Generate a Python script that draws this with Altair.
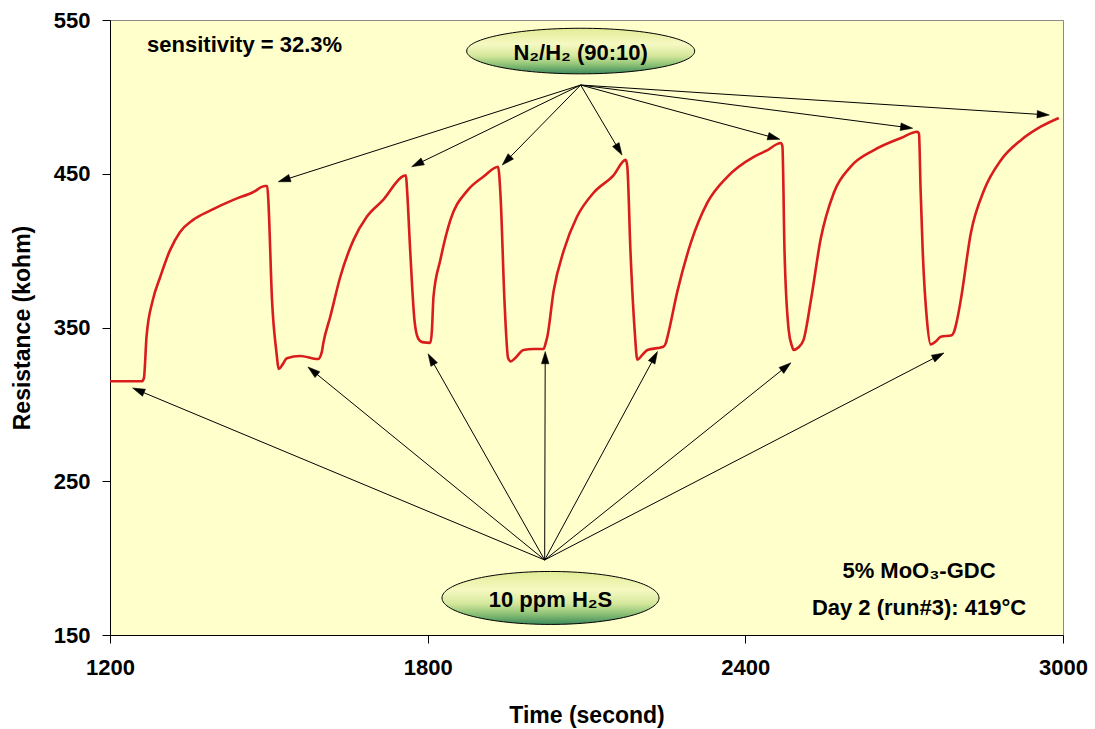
import math
import altair as alt
import pandas as pd

# ---------------- data ----------------
time_s = [1200, 1260, 1264, 1269, 1281, 1295, 1313, 1332, 1357, 1389, 1433, 1470, 1493, 1497,
          1499, 1506, 1514, 1519, 1526, 1534, 1559, 1593, 1600, 1603, 1616, 1635, 1660, 1685,
          1716, 1754, 1759, 1761, 1767, 1775, 1782, 1790, 1805, 1808, 1811, 1824, 1843, 1875,
          1905, 1933, 1935, 1938, 1945, 1952, 1957, 1965, 1981, 2000, 2019, 2023, 2026, 2038,
          2057, 2082, 2113, 2151, 2174, 2177, 2183, 2191, 2196, 2205, 2215, 2245, 2250, 2253,
          2272, 2297, 2328, 2366, 2416, 2440, 2467, 2470, 2474, 2482, 2488, 2491, 2500, 2510,
          2524, 2542, 2567, 2599, 2643, 2694, 2725, 2728, 2731, 2735, 2743, 2750, 2760, 2769,
          2790, 2794, 2800, 2807, 2826, 2851, 2883, 2921, 2958, 2992]
resistance_kohm = [315, 315, 317, 344, 368, 383, 400, 412, 420, 426, 433, 438, 442, 442,
                   433, 368, 335, 323, 326, 330, 331.5, 329.5, 334, 340, 357, 383, 407, 422,
                   433, 448.5, 449, 440, 400, 355, 343, 340.5, 340, 348, 370, 394, 420, 439,
                   448, 454.6, 450, 433, 368, 330, 328, 330, 335.4, 336, 336, 340, 344, 374,
                   400, 422, 437.5, 449, 459, 455, 400, 348, 329, 332, 335.4, 337.5, 340, 344,
                   374, 405, 431, 448, 461, 465, 470, 468, 400, 348, 338, 335.4, 337, 342,
                   368, 407, 437.5, 454.6, 465.4, 473.3, 477.3, 476, 440, 400, 355, 339, 341, 344,
                   345, 347, 355, 368, 411.5, 439.4, 459, 472, 480.6, 486.3]

x_ticks = [1200, 1800, 2400, 3000]
y_ticks = [150, 250, 350, 450, 550]

# annotation arrows: source point and arrow tips (data units)
n2_source = [2089, 507.7]
n2_tip_t = [1518, 1770, 1941, 2167, 2465, 2716, 2974]
n2_tip_r = [444.8, 454.6, 455.7, 462.2, 472.4, 479.6, 488.2]

h2s_source = [2021, 198.8]
h2s_tip_t = [1243, 1574, 1801, 2022, 2234, 2486, 2775]
h2s_tip_r = [310.6, 324.3, 332.8, 334.3, 334.3, 327, 333.4]

# text annotations
ellipse_t = [2089, 2032]
ellipse_r = [529.8, 174.1]
ellipse_text = ["N\u2082/H\u2082 (90:10)", "10 ppm H\u2082S"]

note_t = [2728, 2728]
note_r = [187, 163]
note_text = ["5% MoO\u2083-GDC", "Day 2 (run#3): 419\u00b0C"]

sens_t = [1270]
sens_r = [529.2]
sens_text = ["sensitivity = 32.3%"]

# ---------------- layout ----------------
W, H = 953, 615
X0, X1 = 1200, 3000
Y0, Y1 = 150, 550
sx = W / (X1 - X0)
sy = H / (Y1 - Y0)
FONT = "Liberation Sans, Arial, sans-serif"

xs = alt.Scale(domain=[X0, X1], nice=False, zero=False)
ys = alt.Scale(domain=[Y0, Y1], nice=False, zero=False)

x_axis = alt.Axis(
    values=x_ticks, format="d", title="Time (second)", grid=False, domainColor="#000000",
    tickColor="#000000", tickSize=8, labelPadding=14, labelFont=FONT, labelFontSize=22,
    labelFontWeight="bold", labelColor="#000000", titleFont=FONT, titleFontSize=23,
    titleFontWeight="bold", titleColor="#000000", titleY=87, titleBaseline="alphabetic",
    labelFlush=False)
y_axis = alt.Axis(
    values=y_ticks, format="d", title="Resistance (kohm)", grid=False, domainColor="#000000",
    tickColor="#000000", tickSize=8, labelPadding=12, labelFont=FONT, labelFontSize=22,
    labelFontWeight="bold", labelColor="#000000", titleFont=FONT, titleFontSize=23,
    titleFontWeight="bold", titleColor="#000000", titleAngle=270, titleX=-88,
    titleY=H / 2, titleAlign="center", titleBaseline="middle", labelFlush=False)


def X(field):
    return alt.X(field, scale=xs, axis=x_axis, title="Time (second)")


def Y(field):
    return alt.Y(field, scale=ys, axis=y_axis, title="Resistance (kohm)")


def arrow_rows(src, tips_t, tips_r, back=6):
    rows = []
    for t, r in zip(tips_t, tips_r):
        dx = (t - src[0]) * sx
        dy = -(r - src[1]) * sy
        L = math.hypot(dx, dy)
        ux, uy = dx / L, dy / L
        ang = math.degrees(math.atan2(ux, -uy)) % 360
        ct = t - ux * back / sx
        cr = r + uy * back / sy
        rows.append(dict(t0=src[0], r0=src[1], t1=ct, r1=cr, ang=ang))
    return rows


arrows = pd.DataFrame(arrow_rows(n2_source, n2_tip_t, n2_tip_r) +
                      arrow_rows(h2s_source, h2s_tip_t, h2s_tip_r))

curve = pd.DataFrame({"t": time_s, "r": resistance_kohm})

line = alt.Chart(curve).mark_line(color="#d91c1c", strokeWidth=2.6,
                                  interpolate="monotone").encode(
    x=X("t:Q"), y=Y("r:Q"))

arrow_lines = alt.Chart(arrows).mark_rule(color="#000000", strokeWidth=1).encode(
    x=X("t0:Q"), y=Y("r0:Q"), x2="t1:Q", y2="r1:Q")

arrow_heads = alt.Chart(arrows).mark_point(
    shape="M 0 -1 L 0.62 1 L -0.62 1 Z", filled=True, fill="#000000", stroke="#000000",
    strokeWidth=0.5, size=150, opacity=1).encode(
    x=X("t1:Q"), y=Y("r1:Q"), angle=alt.Angle("ang:Q", scale=None))

grad = alt.Gradient(gradient="linear", x1=0, x2=0, y1=0, y2=1, stops=[
    alt.GradientStop(color="#e3ec96", offset=0),
    alt.GradientStop(color="#f6f9c2", offset=0.35),
    alt.GradientStop(color="#d6e89c", offset=0.6),
    alt.GradientStop(color="#8cc276", offset=0.8),
    alt.GradientStop(color="#3e8a5c", offset=1)])

ell_df = pd.DataFrame({"t": ellipse_t, "r": ellipse_r, "label": ellipse_text})

ell1 = alt.Chart(ell_df.iloc[[0]]).mark_point(
    shape="M -1 0 A 1 0.2 0 1 1 1 0 A 1 0.2 0 1 1 -1 0 Z", filled=True, fill=grad,
    stroke="#000000", strokeWidth=1, size=228 * 228, opacity=1).encode(
    x=X("t:Q"), y=Y("r:Q"))

ell2 = alt.Chart(ell_df.iloc[[1]]).mark_point(
    shape="M -1 0 A 1 0.244 0 1 1 1 0 A 1 0.244 0 1 1 -1 0 Z", filled=True, fill=grad,
    stroke="#000000", strokeWidth=1, size=217 * 217, opacity=1).encode(
    x=X("t:Q"), y=Y("r:Q"))

ell_text = alt.Chart(ell_df).mark_text(
    font=FONT, fontSize=22, fontWeight="bold", color="#000000", align="center",
    baseline="middle", dy=2).encode(
    x=X("t:Q"), y=Y("r:Q"), text="label:N")

note_df = pd.DataFrame({"t": note_t, "r": note_r, "label": note_text})
notes = alt.Chart(note_df).mark_text(
    font=FONT, fontSize=22, fontWeight="bold", color="#000000", align="center",
    baseline="alphabetic").encode(
    x=X("t:Q"), y=Y("r:Q"), text="label:N")

sens_df = pd.DataFrame({"t": sens_t, "r": sens_r, "label": sens_text})
sens = alt.Chart(sens_df).mark_text(
    font=FONT, fontSize=22, fontWeight="bold", color="#000000", align="left",
    baseline="alphabetic").encode(
    x=X("t:Q"), y=Y("r:Q"), text="label:N")

chart = alt.layer(line, arrow_lines, arrow_heads, ell1, ell2, ell_text, notes, sens).properties(
    width=W, height=H,
    autosize=alt.AutoSizeParams(type="none"),
    padding={"left": 110, "top": 20, "right": 32, "bottom": 94},
    background="#ffffff",
).configure_view(fill="#ffffcc", stroke="#8a8a8a", strokeWidth=1)

chart.save("out.html", embed_options={"renderer": "svg", "actions": False})
